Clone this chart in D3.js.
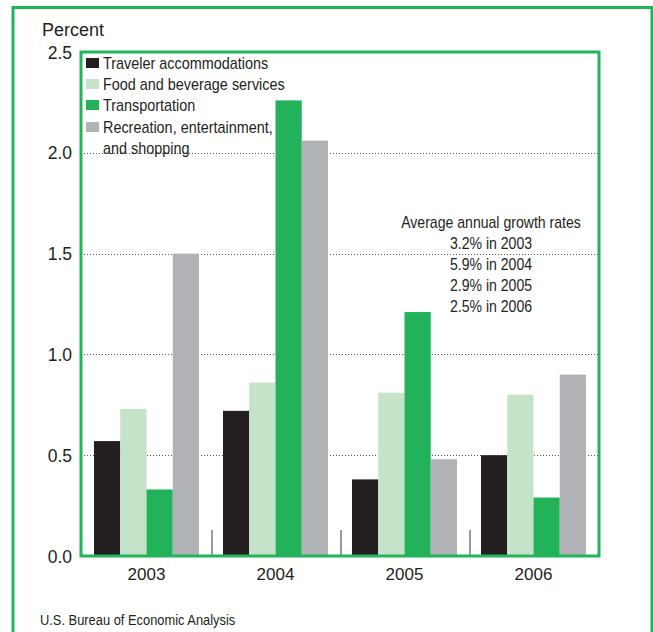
<!DOCTYPE html>
<html>
<head>
<meta charset="utf-8">
<script src="https://cdn.jsdelivr.net/npm/d3@7"></script>
<style>
  html, body { margin: 0; padding: 0; background: #fff; }
  svg { display: block; }
</style>
</head>
<body>
<svg id="chart" width="653" height="632"></svg>
<script>
const years = ["2003", "2004", "2005", "2006"];
const seriesNames = ["Traveler accommodations", "Food and beverage services", "Transportation", "Recreation, entertainment, and shopping"];
const accommodations = [0.57, 0.72, 0.38, 0.50];
const foodBeverage = [0.73, 0.86, 0.81, 0.80];
const transportation = [0.33, 2.26, 1.21, 0.29];
const recreation = [1.50, 2.06, 0.48, 0.90];
const yTicks = [0.0, 0.5, 1.0, 1.5, 2.0, 2.5];
const growthNotes = ["Average annual growth rates", "3.2% in 2003", "5.9% in 2004", "2.9% in 2005", "2.5% in 2006"];
const colors = ["#231f20", "#c5e3c8", "#22b259", "#b1b2b5"];

const series = [accommodations, foodBeverage, transportation, recreation];
const svg = d3.select("#chart");
const green = "#22b45a";
const regular = "'Liberation Sans', Arial, Helvetica, sans-serif";

const plot = {left: 81, right: 599, top: 52, bottom: 556};

const x = d3.scaleBand().domain(years).range([82, 598]).paddingInner(0).paddingOuter(0);
const xInner = d3.scaleBand().domain(d3.range(4)).range([12, x.bandwidth() - 12]);
const y = d3.scaleLinear().domain([0, 2.5]).range([plot.bottom, plot.top]);

// condensed text helper
function narrowText(parent, tx, ty, txt, size, sx, anchor) {
  return parent.append("text")
    .attr("transform", `translate(${tx},${ty}) scale(${sx},1)`)
    .attr("x", 0).attr("y", 0).attr("dy", "0.35em")
    .attr("text-anchor", anchor || "start")
    .attr("font-family", regular).attr("font-size", size).attr("fill", "#231f20")
    .text(txt);
}

// outer frame
svg.append("rect").attr("x", 13).attr("y", 7.5).attr("width", 639).attr("height", 640)
  .attr("fill", "none").attr("stroke", green).attr("stroke-width", 3);

// gridlines
svg.append("g").selectAll("line").data(yTicks.filter(d => d > 0 && d < 2.5)).join("line")
  .attr("x1", plot.left).attr("x2", plot.right)
  .attr("y1", d => Math.round(y(d)) + 0.5).attr("y2", d => Math.round(y(d)) + 0.5)
  .attr("stroke", "#555").attr("stroke-width", 1).attr("stroke-dasharray", "1,2");

// bars
const barG = svg.append("g");
years.forEach((yr, i) => {
  series.forEach((s, j) => {
    barG.append("rect")
      .attr("x", x(yr) + xInner(j))
      .attr("width", xInner.bandwidth())
      .attr("y", y(s[i]))
      .attr("height", y(0) - y(s[i]))
      .attr("fill", colors[j]);
  });
});

// separators between groups
svg.append("g").selectAll("line").data(years.slice(1)).join("line")
  .attr("x1", d => x(d) + 1).attr("x2", d => x(d) + 1)
  .attr("y1", 530).attr("y2", plot.bottom)
  .attr("stroke", "#555").attr("stroke-width", 1.2);

// inner frame
svg.append("rect").attr("x", plot.left).attr("y", plot.top).attr("width", plot.right - plot.left).attr("height", plot.bottom - plot.top)
  .attr("fill", "none").attr("stroke", green).attr("stroke-width", 3);

// y axis labels
const yAxis = d3.axisLeft(y).tickValues(yTicks).tickFormat(d3.format(".1f")).tickSize(0).tickPadding(0);
const yg = svg.append("g").attr("transform", "translate(72,0)").call(yAxis);
yg.select(".domain").remove();
yg.selectAll("text").attr("font-family", regular).attr("font-size", 17.5).attr("fill", "#231f20").attr("dy", "0.35em");

svg.append("text").attr("x", 42).attr("y", 36).text("Percent")
  .attr("font-family", regular).attr("font-size", 18).attr("fill", "#231f20");

// x axis labels
const xAxis = d3.axisBottom(x).tickSize(0).tickPadding(0);
const xg = svg.append("g").attr("transform", "translate(0,566)").call(xAxis);
xg.select(".domain").remove();
xg.selectAll("text").attr("font-family", regular).attr("font-size", 17).attr("fill", "#231f20").attr("dy", "0.85em");

// legend
const legendRows = [
  {label: seriesNames[0], c: 0, y: 63},
  {label: seriesNames[1], c: 1, y: 84},
  {label: seriesNames[2], c: 2, y: 105},
  {label: "Recreation, entertainment,", c: 3, y: 127},
  {label: "and shopping", c: -1, y: 148}
];
const lg = svg.append("g");
legendRows.forEach(r => {
  if (r.c >= 0) {
    lg.append("rect").attr("x", 86).attr("y", r.y - 5).attr("width", 13).attr("height", 10).attr("fill", colors[r.c]);
  }
  narrowText(lg, 103, r.y, r.label, 16, 0.9);
});

// annotation
const ag = svg.append("g");
growthNotes.forEach((d, i) => narrowText(ag, 491, 222 + i * 21, d, 16, 0.88, "middle"));

// source
narrowText(svg, 40, 620, "U.S. Bureau of Economic Analysis", 14, 0.92);
</script>
</body>
</html>
